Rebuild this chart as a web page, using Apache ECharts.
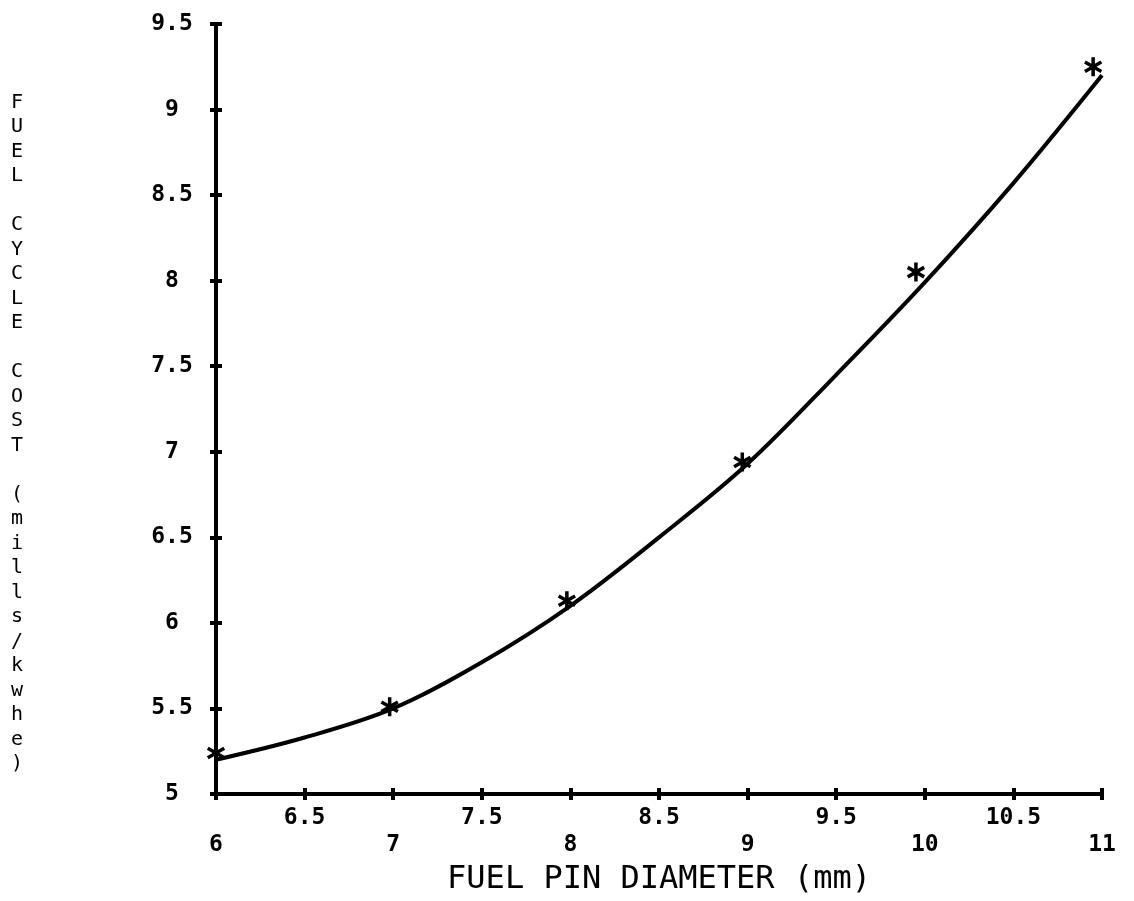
<!DOCTYPE html>
<html>
<head>
<meta charset="utf-8">
<script src="https://cdn.jsdelivr.net/npm/echarts@6/dist/echarts.min.js"></script>
<style>html,body{margin:0;padding:0;background:#fff}#c{width:1134px;height:901px}</style>
</head>
<body>
<div id="c"></div>
<script>
// Smooth fitted curve
const curveX = [6, 6.5, 7, 7.5, 8, 8.5, 9, 9.5, 10, 10.5, 11];
const curveY = [5.2, 5.33, 5.5, 5.77, 6.1, 6.5, 6.93, 7.45, 7.99, 8.57, 9.2];
// Computed points (asterisks)
const pointX = [6, 6.98, 7.98, 8.97, 9.95, 10.95];
const pointY = [5.24, 5.51, 6.13, 6.94, 8.05, 9.25];
const xTitle = 'FUEL PIN DIAMETER (mm)';
const yTitle = 'FUEL CYCLE COST (mills/kwhe)';

const FONT = '"DejaVu Sans Mono", "Liberation Mono", monospace';
const star = 'path://M0 -10 L0 10 M-8.66 -5 L8.66 5 M-8.66 5 L8.66 -5';

const chart = echarts.init(document.getElementById('c'), null, {renderer: 'canvas'});
const axisLine = {show: true, onZero: false, lineStyle: {color: '#000', width: 4}};
const tickOut = {show: true, length: 6, lineStyle: {color: '#000', width: 4}};
const tickIn = {show: true, inside: true, length: 6, lineStyle: {color: '#000', width: 4}};

chart.setOption({
  animation: false,
  backgroundColor: '#fff',
  grid: {left: 216, right: 32, top: 24, bottom: 107},
  xAxis: [{
    type: 'value', min: 6, max: 11, interval: 0.5,
    axisLine: axisLine, axisTick: tickOut, splitLine: {show: false},
    axisLabel: {
      color: '#000', fontFamily: FONT, fontSize: 23, fontWeight: 'bold', lineHeight: 27, margin: 11,
      formatter: v => Number.isInteger(v) ? '\n' + v : String(v)
    },
    name: xTitle, nameLocation: 'middle', nameGap: 68,
    nameTextStyle: {color: '#000', fontFamily: FONT, fontSize: 32}
  }, {
    type: 'value', min: 6, max: 11, interval: 0.5, position: 'bottom', gridIndex: 0,
    axisLine: {show: false}, axisTick: tickIn, axisLabel: {show: false}, splitLine: {show: false}
  }],
  yAxis: [{
    type: 'value', min: 5, max: 9.5, interval: 0.5,
    axisLine: axisLine, axisTick: tickOut, splitLine: {show: false},
    axisLabel: {color: '#000', fontFamily: FONT, fontSize: 23, fontWeight: 'bold', margin: 44, align: 'center'},
    name: '\n\n' + yTitle.split('').join('\n'), nameLocation: 'middle', nameGap: 199, nameRotate: 0,
    nameTextStyle: {color: '#000', fontFamily: FONT, fontSize: 20, lineHeight: 24.5, align: 'center'}
  }, {
    type: 'value', min: 5, max: 9.5, interval: 0.5, position: 'left',
    axisLine: {show: false}, axisTick: tickIn, axisLabel: {show: false}, splitLine: {show: false}
  }],
  series: [{
    type: 'line', smooth: 0.35, showSymbol: false,
    data: curveX.map((x, i) => [x, curveY[i]]),
    lineStyle: {color: '#000', width: 4}
  }, {
    type: 'scatter', symbol: star, symbolSize: 19, symbolKeepAspect: true,
    data: pointX.map((x, i) => [x, pointY[i]]),
    itemStyle: {color: 'none', borderColor: '#000', borderWidth: 3.5, opacity: 1}
  }]
});
</script>
</body>
</html>
